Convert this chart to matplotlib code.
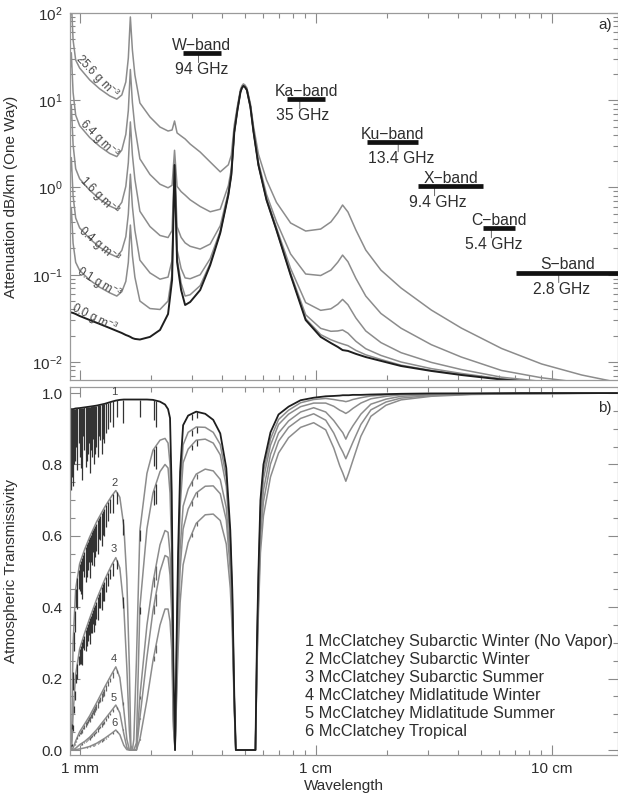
import numpy as np
import matplotlib
matplotlib.use('Agg')
import matplotlib.pyplot as plt
from matplotlib.ticker import (FixedLocator, LogLocator, MultipleLocator,
                               NullFormatter, FormatStrFormatter)

plt.rcParams['font.family'] = ['Liberation Sans', 'DejaVu Sans']
plt.rcParams['mathtext.fontset'] = 'custom'
plt.rcParams['mathtext.rm'] = 'Liberation Sans'
plt.rcParams['mathtext.it'] = 'Liberation Sans:italic'
plt.rcParams['mathtext.bf'] = 'Liberation Sans:bold'

# ---------------- panel a: one-way attenuation (dB/km) vs wavelength (mm)
att_wl = [0.907, 0.922, 0.938, 0.962, 1.0, 1.103, 1.216, 1.342, 1.437, 1.509,
          1.569, 1.608, 1.640, 1.673, 1.714, 1.800, 1.986, 2.190, 2.369, 2.464,
          2.524, 2.587, 2.691, 2.798, 2.938, 3.240, 3.574, 3.942, 4.265, 4.39,
          4.52, 4.66, 4.80, 4.867, 4.94, 5.012, 5.11, 5.29, 5.45, 5.72, 6.19, 6.82,
          7.83, 9.07, 10.5, 11.6, 12.4, 13.0, 13.7, 14.8, 16.3, 18.9,
          23.0, 30.9, 41.4, 61.3, 90.6, 134, 193]

att_labels = ['0.0', '0.1', '0.4', '1.6', '6.4', '25.6']   # g m-3 water vapour

att_0_0 = [0.0374, 0.0369, 0.0365, 0.0355, 0.0337, 0.0303, 0.0273, 0.0245, 0.0227, 0.0215,
           0.0204, 0.0199, 0.0194, 0.0188, 0.0184, 0.0181, 0.0194, 0.0233, 0.0355, 0.0871,
           1.81, 0.140, 0.0668, 0.0450, 0.0487, 0.0668, 0.129, 0.301, 0.82, 1.39,
           4.3, 7.7, 12.4, 13.8, 14.6, 14.2, 13.1, 8.4, 4.4, 1.81, 0.72, 0.326,
           0.0993, 0.0303, 0.0194, 0.0165, 0.0149, 0.0137, 0.0134, 0.0124, 0.0114, 0.0103,
           0.0090, 0.0079, 0.0071, 0.0063, 0.0058, 0.0054, 0.0050]
att_0_1 = [0.32, 0.59, 0.23, 0.139, 0.112, 0.087, 0.072, 0.062, 0.057, 0.064,
           0.084, 0.139, 0.371, 0.166, 0.094, 0.050, 0.041, 0.040, 0.050, 0.102,
           1.82, 0.154, 0.080, 0.057, 0.059, 0.075, 0.135, 0.305, 0.824, 1.39,
           4.30, 7.70, 12.4, 13.8, 14.6, 14.2, 13.1, 8.40, 4.40, 1.81, 0.722, 0.327,
           0.100, 0.0314, 0.0206, 0.0180, 0.0168, 0.0161, 0.0154, 0.0136, 0.0121, 0.0107,
           0.0092, 0.0080, 0.0072, 0.0064, 0.0058, 0.0054, 0.0050]
att_0_4 = [1.18, 2.2, 0.80, 0.448, 0.345, 0.258, 0.207, 0.174, 0.160, 0.190,
           0.273, 0.496, 1.42, 0.606, 0.323, 0.147, 0.105, 0.089, 0.094, 0.147,
           1.86, 0.194, 0.118, 0.092, 0.090, 0.100, 0.153, 0.317, 0.835, 1.40,
           4.31, 7.71, 12.41, 13.81, 14.61, 14.21, 13.11, 8.41, 4.41, 1.82, 0.728, 0.331,
           0.104, 0.0348, 0.0243, 0.0225, 0.0227, 0.0233, 0.0214, 0.0173, 0.0142, 0.0119,
           0.0100, 0.0084, 0.0074, 0.0064, 0.0059, 0.0054, 0.0050]
att_1_6 = [4.59, 8.8, 3.10, 1.64, 1.26, 0.929, 0.736, 0.613, 0.564, 0.677,
           1.03, 1.93, 5.64, 2.37, 1.24, 0.534, 0.357, 0.282, 0.267, 0.322,
           2.02, 0.355, 0.268, 0.232, 0.212, 0.197, 0.225, 0.365, 0.879, 1.45,
           4.35, 7.75, 12.45, 13.85, 14.65, 14.25, 13.14, 8.44, 4.44, 1.85, 0.749, 0.347,
           0.118, 0.048, 0.0391, 0.0407, 0.0459, 0.0522, 0.0453, 0.032, 0.0227, 0.0167,
           0.0128, 0.0099, 0.0082, 0.0067, 0.0060, 0.0055, 0.0051]
att_6_4 = [18.3, 35.0, 12.3, 6.75, 5.11, 3.74, 2.96, 2.45, 2.26, 2.69,
           4.06, 7.64, 22.5, 9.42, 4.89, 2.13, 1.41, 1.09, 0.992, 1.06,
           2.67, 1.03, 0.897, 0.818, 0.723, 0.606, 0.527, 0.564, 1.05, 1.61,
           4.50, 7.90, 12.6, 13.99, 14.8, 14.38, 13.27, 8.56, 4.55, 1.95, 0.834, 0.406,
           0.173, 0.102, 0.098, 0.113, 0.139, 0.168, 0.141, 0.091, 0.057, 0.036,
           0.0244, 0.0158, 0.0114, 0.0080, 0.0066, 0.0058, 0.0052]
att_25_6 = [72.9, 140, 49.1, 28.9, 23.4, 17.1, 13.5, 11.2, 10.3, 11.5,
            16.2, 30.5, 90.0, 37.6, 19.5, 9.30, 6.43, 4.93, 4.44, 4.56,
            5.78, 4.22, 3.89, 3.60, 3.15, 2.55, 1.96, 1.51, 1.82, 2.34,
            5.20, 8.57, 13.24, 14.62, 15.4, 14.98, 13.86, 9.12, 5.08, 2.41, 1.22, 0.676,
            0.392, 0.317, 0.334, 0.403, 0.511, 0.630, 0.524, 0.326, 0.192, 0.113,
            0.0705, 0.0394, 0.0245, 0.0143, 0.0095, 0.0071, 0.0058]

# radar bands: edges and nominal frequency in GHz, bar level in dB/km
band_names = ['W', 'Ka', 'Ku', 'X', 'C', 'S']
band_lo = [75.5, 27.4, 11.1, 5.86, 4.28, 1.55]
band_hi = [109.5, 39.6, 18.2, 11.0, 5.86, 4.24]
band_ghz = [94, 35, 13.4, 9.4, 5.4, 2.8]
band_level = [34.8, 10.3, 3.32, 1.04, 0.343, 0.105]

# ---------------- panel b: atmospheric transmissivity vs wavelength (mm)
tr_wl = [0.907, 0.925, 0.938, 0.962, 1.0, 1.050, 1.103, 1.181, 1.278, 1.368,
         1.423, 1.480, 1.539, 1.585, 1.624, 1.648, 1.673, 1.697, 1.740, 1.800,
         1.928, 2.045, 2.190, 2.300, 2.369, 2.415, 2.456, 2.495, 2.536, 2.574,
         2.612, 2.665, 2.744, 2.882, 3.117, 3.404, 3.681, 3.942, 4.181, 4.347,
         4.433, 4.521, 4.588, 5.556, 5.638, 5.721, 5.834, 6.008, 6.435, 6.961,
         7.677, 8.634, 9.806, 11.03, 11.93, 12.65, 13.03, 13.42, 13.81, 14.37,
         15.54, 17.14, 19.86, 23.0, 30.86, 45.66, 74.5, 192.8]

tr_1 = [0.955, 0.955, 0.955, 0.957, 0.958, 0.960, 0.962, 0.965, 0.970, 0.976,
        0.979, 0.981, 0.982, 0.982, 0.982, 0.982, 0.982, 0.982, 0.982, 0.982,
        0.982, 0.981, 0.976, 0.968, 0.955, 0.930, 0.720, 0.250, 0.0, 0.300,
        0.550, 0.780, 0.910, 0.937, 0.948, 0.942, 0.925, 0.887, 0.790, 0.616,
        0.450, 0.150, 0.0, 0.0, 0.300, 0.500, 0.700, 0.800, 0.890, 0.940,
        0.962, 0.980, 0.987, 0.991, 0.992, 0.993, 0.994, 0.994, 0.994, 0.995,
        0.995, 0.996, 0.997, 0.998, 0.999, 0.999, 1.0, 1.0]
tr_2 = [0.0, 0.03, 0.30, 0.452, 0.522, 0.562, 0.597, 0.640, 0.681, 0.712,
        0.727, 0.708, 0.627, 0.477, 0.232, 0.013, 0.0, 0.03, 0.25, 0.616,
        0.775, 0.84, 0.868, 0.873, 0.86, 0.80, 0.62, 0.17, 0.0, 0.27,
        0.506, 0.725, 0.855, 0.89, 0.905, 0.904, 0.89, 0.856, 0.764, 0.596,
        0.437, 0.146, 0.0, 0.0, 0.288, 0.483, 0.679, 0.78, 0.872, 0.926,
        0.952, 0.973, 0.982, 0.985, 0.982, 0.979, 0.978, 0.976, 0.978, 0.982,
        0.987, 0.992, 0.995, 0.997, 0.998, 0.999, 0.999, 1.0]
tr_3 = [0.0, 0.0, 0.10, 0.212, 0.283, 0.328, 0.369, 0.423, 0.478, 0.519,
        0.539, 0.510, 0.400, 0.230, 0.054, 0.0, 0.0, 0.0, 0.02, 0.40,
        0.62, 0.72, 0.78, 0.80, 0.79, 0.72, 0.555, 0.14, 0.0, 0.25,
        0.473, 0.679, 0.805, 0.843, 0.868, 0.871, 0.86, 0.827, 0.739, 0.577,
        0.423, 0.141, 0.0, 0.0, 0.276, 0.465, 0.658, 0.76, 0.854, 0.912,
        0.941, 0.962, 0.972, 0.972, 0.963, 0.952, 0.948, 0.943, 0.948, 0.957,
        0.972, 0.984, 0.991, 0.995, 0.997, 0.998, 0.999, 1.0]
tr_4 = [0.0, 0.0, 0.005, 0.025, 0.051, 0.073, 0.096, 0.133, 0.177, 0.213,
        0.233, 0.203, 0.113, 0.030, 0.001, 0.0, 0.0, 0.0, 0.0, 0.15,
        0.35, 0.47, 0.575, 0.615, 0.61, 0.55, 0.425, 0.10, 0.0, 0.20,
        0.385, 0.562, 0.683, 0.731, 0.773, 0.787, 0.782, 0.758, 0.679, 0.533,
        0.392, 0.131, 0.0, 0.0, 0.255, 0.435, 0.623, 0.728, 0.828, 0.888,
        0.922, 0.947, 0.959, 0.947, 0.923, 0.900, 0.889, 0.871, 0.889, 0.908,
        0.941, 0.969, 0.983, 0.991, 0.995, 0.998, 0.999, 1.0]
tr_5 = [0.0, 0.0, 0.0, 0.005, 0.015, 0.024, 0.036, 0.057, 0.086, 0.111,
        0.126, 0.104, 0.045, 0.007, 0.0, 0.0, 0.0, 0.0, 0.0, 0.09,
        0.26, 0.39, 0.50, 0.545, 0.54, 0.49, 0.38, 0.085, 0.0, 0.17,
        0.341, 0.507, 0.619, 0.675, 0.72, 0.739, 0.74, 0.718, 0.644, 0.505,
        0.369, 0.123, 0.0, 0.0, 0.243, 0.415, 0.595, 0.696, 0.801, 0.865,
        0.904, 0.929, 0.942, 0.924, 0.888, 0.851, 0.835, 0.816, 0.835, 0.862,
        0.912, 0.953, 0.975, 0.986, 0.993, 0.997, 0.998, 1.0]
tr_6 = [0.0, 0.0, 0.0, 0.001, 0.003, 0.006, 0.010, 0.019, 0.033, 0.047,
        0.056, 0.043, 0.013, 0.001, 0.0, 0.0, 0.0, 0.0, 0.0, 0.03,
        0.14, 0.25, 0.35, 0.395, 0.395, 0.36, 0.28, 0.065, 0.0, 0.14,
        0.275, 0.413, 0.519, 0.581, 0.635, 0.659, 0.661, 0.643, 0.577, 0.453,
        0.333, 0.111, 0.0, 0.0, 0.225, 0.385, 0.553, 0.656, 0.765, 0.832,
        0.875, 0.904, 0.917, 0.897, 0.846, 0.796, 0.776, 0.753, 0.776, 0.811,
        0.879, 0.935, 0.966, 0.981, 0.991, 0.996, 0.998, 1.0]

# narrow (ozone etc.) lines: wavelength and how low curve 1 dips there
ozone_wl = [0.916, 0.927, 0.934, 0.943, 0.952, 0.962, 0.978, 0.990, 1.0, 1.010,
            1.020, 1.030, 1.040, 1.060, 1.071, 1.081, 1.092, 1.103, 1.114, 1.125,
            1.136, 1.147, 1.158, 1.170, 1.193, 1.205, 1.216, 1.240, 1.253, 1.265,
            1.290, 1.316, 1.342, 1.382, 1.437, 1.524, 1.800, 2.065, 2.106, 3.0,
            3.15]
ozone_t = [0.728, 0.766, 0.74, 0.80, 0.81, 0.85, 0.784, 0.86, 0.82, 0.79,
           0.756, 0.88, 0.84, 0.794, 0.81, 0.83, 0.86, 0.775, 0.84, 0.82,
           0.87, 0.80, 0.83, 0.85, 0.82, 0.88, 0.868, 0.83, 0.87, 0.86,
           0.887, 0.90, 0.92, 0.906, 0.934, 0.915, 0.934, 0.924, 0.906, 0.925,
           0.93]

model_names = ['McClatchey Subarctic Winter (No Vapor)',
               'McClatchey Subarctic Winter',
               'McClatchey Subarctic Summer',
               'McClatchey Midlatitude Winter',
               'McClatchey Midlatitude Summer',
               'McClatchey Tropical']
model_tag_t = [0.99, 0.735, 0.548, 0.24, 0.133, 0.062]

GREY = '#8c8c8c'
DARK = '#1e1e1e'
TXT = '#2e2e2e'


def style_axes(ax):
    ax.set_xscale('log')
    ax.set_xlim(0.906, 190)
    ax.xaxis.set_major_locator(FixedLocator([1, 10, 100]))
    ax.xaxis.set_minor_locator(LogLocator(base=10, subs=np.arange(2, 10), numticks=20))
    ax.xaxis.set_minor_formatter(NullFormatter())
    ax.tick_params(which='both', direction='in', top=True, right=True,
                   colors='#8a8a8a', labelcolor=TXT, labelsize=11, width=0.8)
    ax.tick_params(which='major', length=7, pad=5)
    ax.tick_params(which='minor', length=3.5)
    for s in ax.spines.values():
        s.set_color('#9a9a9a')
        s.set_linewidth(0.9)


fig = plt.figure(figsize=(6.18, 7.96), dpi=100)
ax1 = fig.add_axes([0.1125, 0.5226, 0.8867, 0.4611])
ax2 = fig.add_axes([0.1125, 0.0515, 0.8867, 0.4623])

# ---- panel a
att_curves = [att_0_0, att_0_1, att_0_4, att_1_6, att_6_4, att_25_6]
for vals in att_curves[1:]:
    ax1.plot(att_wl, vals, color=GREY, lw=1.1)
ax1.plot(att_wl, att_0_0, color=DARK, lw=1.4)

label_spots = [(1.151, 0.0319, -27), (1.208, 0.080, -31), (1.208, 0.219, -40),
               (1.208, 0.80, -45), (1.208, 3.6, -45), (1.185, 18.5, -46)]
for (lx, ly, rot), lab in zip(label_spots, att_labels):
    ax1.text(lx, ly, lab + ' g m$^{-3}$', rotation=rot, rotation_mode='anchor',
             ha='center', va='center', fontsize=8.3, color='#444444')

for name, lo, hi, fc, lvl in zip(band_names, band_lo, band_hi, band_ghz, band_level):
    w_lo, w_hi = 299.79 / hi, 299.79 / lo
    ax1.plot([w_lo, w_hi], [lvl, lvl], color='#111111', lw=3.4, solid_capstyle='butt', zorder=4)
    xc = 299.79 / fc
    ax1.annotate('', xy=(xc, lvl), xytext=(0, -7), textcoords='offset points',
                 arrowprops=dict(arrowstyle='-', color='#666666', lw=0.7, shrinkA=0, shrinkB=0))
    ax1.annotate(name + '\u2212band', xy=(np.sqrt(w_lo * w_hi), lvl), xytext=(0, 2.5),
                 textcoords='offset points', ha='center', va='baseline', fontsize=11.3, color=TXT)
    ax1.annotate('%g GHz' % fc, xy=(xc, lvl), xytext=(2, -12), textcoords='offset points',
                 ha='center', va='center', fontsize=11.3, color=TXT)

style_axes(ax1)
ax1.set_yscale('log')
ax1.set_ylim(0.00622, 100)
ax1.yaxis.set_major_locator(LogLocator(base=10, numticks=10))
ax1.yaxis.set_minor_locator(LogLocator(base=10, subs=np.arange(2, 10), numticks=20))
ax1.yaxis.set_minor_formatter(NullFormatter())
ax1.tick_params(labelbottom=False)
ax1.set_ylabel('Attenuation dB/km (One Way)', fontsize=11, color=TXT)
ax1.yaxis.set_label_coords(-0.094, 0.5)
ax1.text(0.99, 0.967, 'a)', transform=ax1.transAxes, ha='right', va='center',
         fontsize=11, color=TXT)

# ---- panel b
tr_curves = [tr_1, tr_2, tr_3, tr_4, tr_5, tr_6]
for vals in tr_curves[1:]:
    ax2.plot(tr_wl, vals, color=GREY, lw=1.1)
ax2.plot(tr_wl, tr_1, color=DARK, lw=1.3)

lw_log = np.log(tr_wl)
oz_log = np.log(ozone_wl)
t1_at = np.interp(oz_log, lw_log, tr_1)
frac = np.array(ozone_t) / t1_at
for k, vals in enumerate(tr_curves):
    base = np.interp(oz_log, lw_log, vals)
    ax2.vlines(ozone_wl, base * frac, base, color='#333333' if k < 3 else '#666666', lw=0.9)

for k, t in enumerate(model_tag_t):
    ax2.text(1.40, t, str(k + 1), ha='center', va='bottom', fontsize=8,
             color='#444444', clip_on=False)

ax2.text(0.4297, 0.1875, '\n'.join('%d %s' % (k + 1, n) for k, n in enumerate(model_names)),
         transform=ax2.transAxes, ha='left', va='center', fontsize=11.8, color=TXT,
         linespacing=1.25)

style_axes(ax2)
ax2.set_ylim(-0.014, 1.017)
ax2.yaxis.set_major_locator(MultipleLocator(0.2))
ax2.yaxis.set_minor_locator(MultipleLocator(0.05))
ax2.yaxis.set_major_formatter(FormatStrFormatter('%.1f'))
ax2.set_xticks([1, 10, 100])
ax2.set_xticklabels(['1 mm', '1 cm', '10 cm'])
ax2.set_xlabel('Wavelength', fontsize=11, color=TXT, labelpad=2)
ax2.set_ylabel('Atmospheric Transmissivity', fontsize=11, color=TXT)
ax2.yaxis.set_label_coords(-0.094, 0.5)
ax2.text(0.99, 0.943, 'b)', transform=ax2.transAxes, ha='right', va='center',
         fontsize=11, color=TXT)

fig.savefig('out.png', dpi=100)
